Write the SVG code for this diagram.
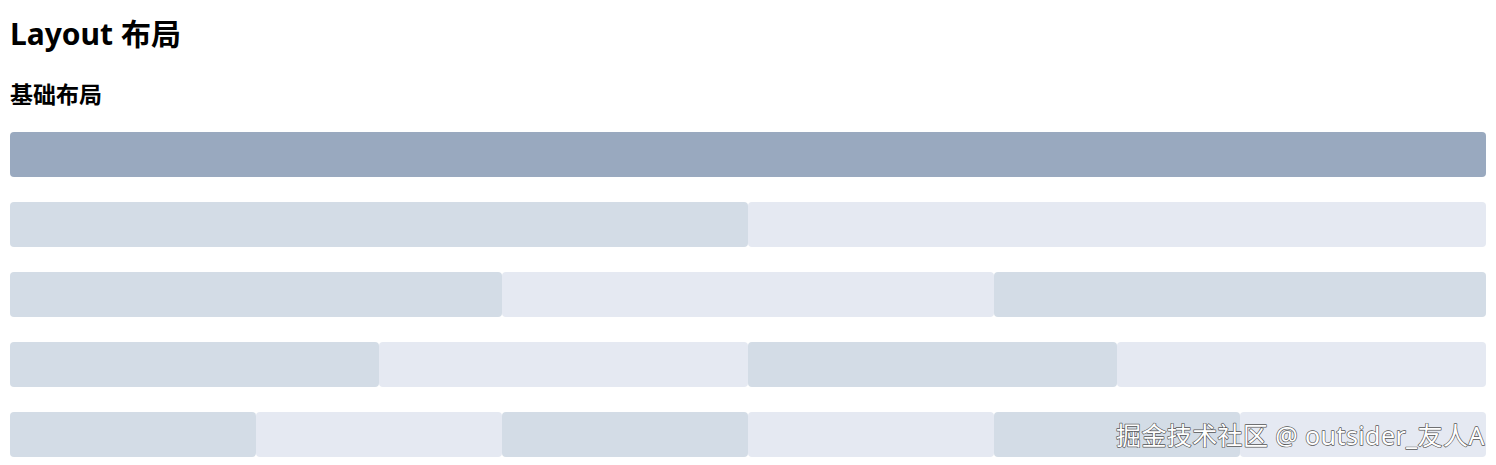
<svg xmlns="http://www.w3.org/2000/svg" width="1496" height="465" viewBox="0 0 1496 465">
<style>
.t{font-family:"Noto Sans","Noto Sans CJK SC",sans-serif;font-weight:bold;fill:#000}
.d{fill:#99a9bf}
.a{fill:#d3dce6}
.b{fill:#e5e9f2}
.wm{font-family:"Noto Sans","Noto Sans CJK SC",sans-serif;font-size:25px;letter-spacing:0.4px;fill:#fff;stroke:#555;stroke-width:1.3;paint-order:stroke;stroke-linejoin:round}
</style>
<rect width="1496" height="465" fill="#fff"/>
<text class="t" x="10" y="45" font-size="30">Layout 布局</text>
<text class="t" x="10" y="103" font-size="23">基础布局</text>
<g id="row1"><rect class="d" x="10" y="132" width="1476" height="45" rx="4"/></g>
<g id="row2">
<rect class="a" x="10" y="202" width="738" height="45" rx="4"/>
<rect class="b" x="748" y="202" width="738" height="45" rx="4"/>
</g>
<g id="row3">
<rect class="a" x="10" y="272" width="492" height="45" rx="4"/>
<rect class="b" x="502" y="272" width="492" height="45" rx="4"/>
<rect class="a" x="994" y="272" width="492" height="45" rx="4"/>
</g>
<g id="row4">
<rect class="a" x="10" y="342" width="369" height="45" rx="4"/>
<rect class="b" x="379" y="342" width="369" height="45" rx="4"/>
<rect class="a" x="748" y="342" width="369" height="45" rx="4"/>
<rect class="b" x="1117" y="342" width="369" height="45" rx="4"/>
</g>
<g id="row5">
<rect class="a" x="10" y="412" width="246" height="45" rx="4"/>
<rect class="b" x="256" y="412" width="246" height="45" rx="4"/>
<rect class="a" x="502" y="412" width="246" height="45" rx="4"/>
<rect class="b" x="748" y="412" width="246" height="45" rx="4"/>
<rect class="a" x="994" y="412" width="246" height="45" rx="4"/>
<rect class="b" x="1240" y="412" width="246" height="45" rx="4"/>
</g>
<g id="connectors"/>
<text class="wm" x="1116" y="445">掘金技术社区 @ outsider_友人A</text>
</svg>
